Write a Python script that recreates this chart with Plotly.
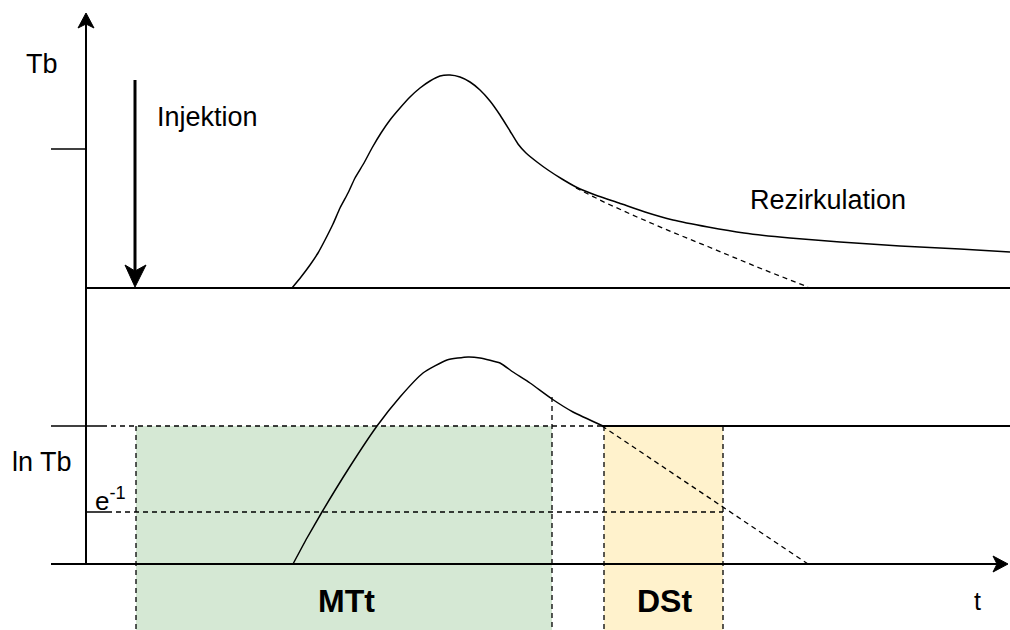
import plotly.graph_objects as go

W, H = 1010, 630

# --- curve data (diagram pixel coordinates) ---
top_curve_x = [292, 301, 310, 318, 325, 333, 340, 348, 355, 364, 372, 381, 390, 400, 410, 420, 430, 440, 450, 460, 470, 480, 490, 500, 510, 518, 526, 537, 548, 562, 576, 598, 619, 645, 673, 708, 744, 790, 840, 900, 960, 1010]
top_curve_y = [288, 277, 265, 253, 240, 224, 208, 193, 178, 163, 148, 133, 120, 108, 97, 88, 81, 76, 75, 77, 82, 90, 101, 115, 131, 144, 153, 162, 170, 179, 187, 196, 203, 212, 220, 227, 233, 238, 242, 246, 249, 252]
top_dash_x = [576, 606, 637, 672, 709, 757, 808]
top_dash_y = [188, 203, 217, 232, 247, 267, 287]

bot_curve_x = [293, 307, 322, 349, 377, 400, 423, 447, 468, 480, 500, 513, 530, 552, 573, 603]
bot_curve_y = [564, 538, 512, 468, 426, 397, 373, 360, 357, 358, 363, 372, 383, 399, 412, 426]
bot_dash_x = [602, 723, 808]
bot_dash_y = [426, 507, 564]

fig = go.Figure()

# shaded windows
fig.add_shape(type="rect", x0=136, x1=552, y0=426, y1=640, fillcolor="#d5e8d4",
              line=dict(width=0), layer="below")
fig.add_shape(type="rect", x0=604, x1=723, y0=426, y1=640, fillcolor="#fff2cc",
              line=dict(width=0), layer="below")

def line(xs, ys, width=1.5):
    fig.add_trace(go.Scatter(x=xs, y=ys, mode="lines", hoverinfo="skip",
                             line=dict(color="black", width=width, shape="spline", smoothing=0.5)))

def seg(xs, ys, width=1.5, dash="solid"):
    fig.add_trace(go.Scatter(x=xs, y=ys, mode="lines", hoverinfo="skip",
                             line=dict(color="black", width=width, dash=dash)))

def head(xs, ys):
    fig.add_trace(go.Scatter(x=xs, y=ys, mode="lines", fill="toself", fillcolor="black",
                             hoverinfo="skip", line=dict(color="black", width=1)))

DASH = "5px,4px"

# window borders
for xv, ytop in [(136, 426), (552, 397), (604, 426), (723, 426)]:
    seg([xv, xv], [ytop, 640], width=1.3, dash=DASH)

# axes
seg([86, 86], [565, 20], width=2)
head([86, 78, 86, 94, 86], [13, 28, 24, 28, 13])
seg([51, 1000], [564, 564], width=2)
head([1008, 993, 997, 993, 1008], [564, 556, 564, 572, 564])

# top baseline and tick
seg([86, 1010], [288, 288], width=2)
seg([51, 86], [149, 149], width=1.5)

# injection arrow
seg([135, 135], [80, 275], width=3)
head([135, 125, 135, 146, 135], [287, 265, 271, 265, 287])

# top curves
line(top_curve_x, top_curve_y)
seg(top_dash_x, top_dash_y, width=1.3, dash=DASH)

# bottom plot reference lines
seg([51, 102], [426, 426], width=1.5)
seg([102, 602], [426, 426], width=1.3, dash=DASH)
seg([602, 1010], [426, 426], width=1.8)
seg([86, 107], [512, 512], width=1.5)
seg([107, 723], [512, 512], width=1.3, dash=DASH)

line(bot_curve_x, bot_curve_y)
seg(bot_dash_x, bot_dash_y, width=1.3, dash=DASH)

font = "Liberation Sans, Arial, Helvetica, sans-serif"
labels = [
    ("Tb", 42, 64, 27),
    ("Injektion", 207, 117, 27),
    ("Rezirkulation", 828, 200, 27),
    ("ln Tb", 42, 462, 27),
    ("e<sup>-1</sup>", 110, 499, 26),
    ("<b>MTt</b>", 346, 601, 32),
    ("<b>DSt</b>", 664, 601, 32),
    ("t", 977, 601, 25),
]
for txt, x, y, size in labels:
    fig.add_annotation(x=x, y=y, xref="x", yref="y", text=txt, showarrow=False,
                       font=dict(family=font, size=size, color="black"),
                       xanchor="center", yanchor="middle")

fig.update_layout(
    width=W, height=H, margin=dict(l=0, r=0, t=0, b=0),
    paper_bgcolor="white", plot_bgcolor="white", showlegend=False,
    xaxis=dict(range=[0, W], visible=False, fixedrange=True),
    yaxis=dict(range=[H, 0], visible=False, fixedrange=True),
)
fig.write_html("out.html", config={"displayModeBar": False},
               post_script="document.body.style.margin='0';document.body.style.overflow='hidden';")
